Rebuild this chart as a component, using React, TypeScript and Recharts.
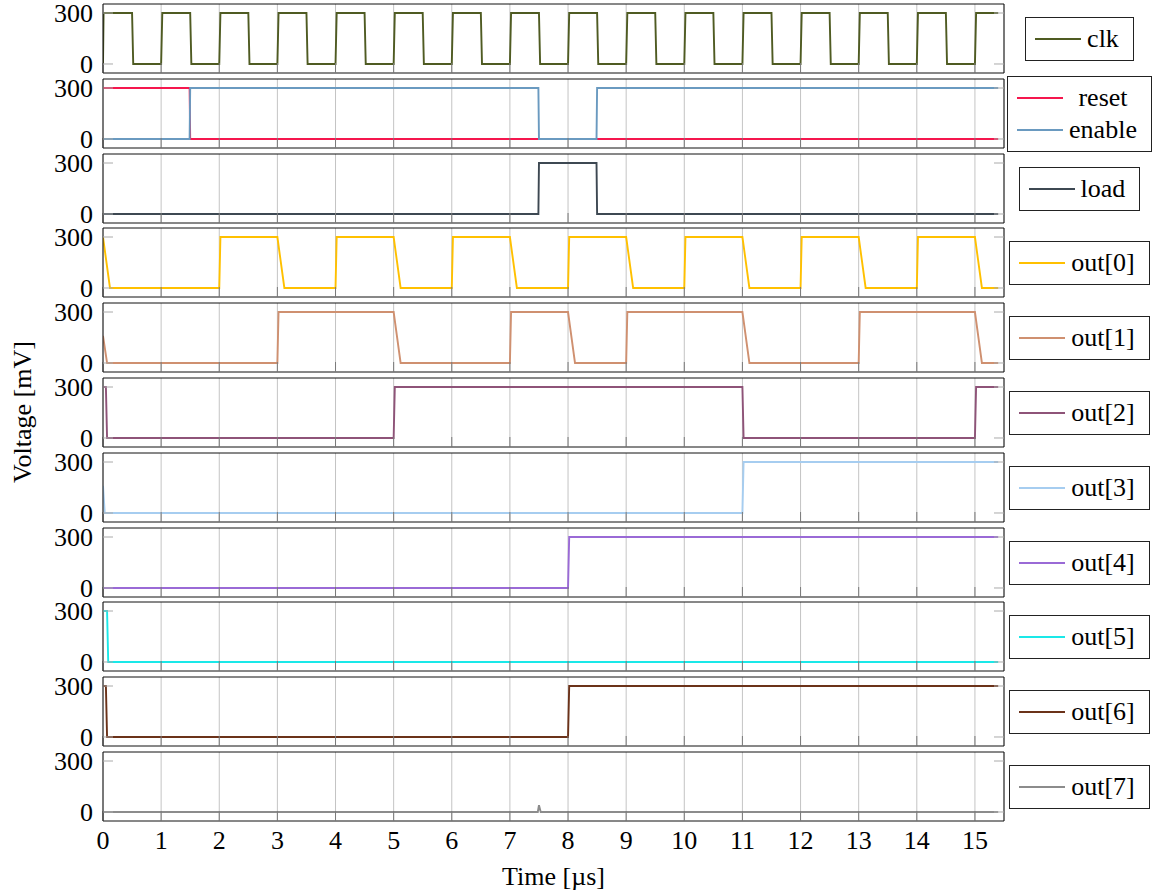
import React from 'react';
import { LineChart, Line, XAxis, YAxis, CartesianGrid, Legend } from 'recharts';

type Pt = [number, number];

const timeTicks = [0, 1, 2, 3, 4, 5, 6, 7, 8, 9, 10, 11, 12, 13, 14, 15];
const voltTicks = [0, 300];
const timeDomain: [number, number] = [0, 15.5];
const voltDomain: [number, number] = [-53, 353];

const clk: Pt[] = [
  [0, 0], [0.01, 300], [0.5, 300], [0.52, 0],
  [1, 0], [1.02, 300], [1.5, 300], [1.52, 0],
  [2, 0], [2.02, 300], [2.5, 300], [2.52, 0],
  [3, 0], [3.02, 300], [3.5, 300], [3.52, 0],
  [4, 0], [4.02, 300], [4.5, 300], [4.52, 0],
  [5, 0], [5.02, 300], [5.5, 300], [5.52, 0],
  [6, 0], [6.02, 300], [6.5, 300], [6.52, 0],
  [7, 0], [7.02, 300], [7.5, 300], [7.52, 0],
  [8, 0], [8.02, 300], [8.5, 300], [8.52, 0],
  [9, 0], [9.02, 300], [9.5, 300], [9.52, 0],
  [10, 0], [10.02, 300], [10.5, 300], [10.52, 0],
  [11, 0], [11.02, 300], [11.5, 300], [11.52, 0],
  [12, 0], [12.02, 300], [12.5, 300], [12.52, 0],
  [13, 0], [13.02, 300], [13.5, 300], [13.52, 0],
  [14, 0], [14.02, 300], [14.5, 300], [14.52, 0],
  [15, 0], [15.02, 300], [15.4, 300],
];
const reset: Pt[] = [[0, 300], [1.49, 300], [1.5, 0], [15.4, 0]];
const enable: Pt[] = [[0, 0], [1.49, 0], [1.5, 300], [7.49, 300], [7.5, 0], [8.49, 0], [8.5, 300], [15.4, 300]];
const load: Pt[] = [[0, 0], [7.49, 0], [7.5, 300], [8.49, 300], [8.5, 0], [15.4, 0]];
const out0: Pt[] = [
  [0, 300], [0.12, 0], [2, 0], [2.02, 300], [3, 300], [3.12, 0],
  [4, 0], [4.02, 300], [5, 300], [5.12, 0], [6, 0], [6.02, 300],
  [7, 300], [7.12, 0], [8, 0], [8.02, 300], [9, 300], [9.12, 0],
  [10, 0], [10.02, 300], [11, 300], [11.12, 0], [12, 0], [12.02, 300],
  [13, 300], [13.12, 0], [14, 0], [14.02, 300], [15, 300], [15.12, 0], [15.4, 0],
];
const out1: Pt[] = [
  [0, 160], [0.07, 0], [3, 0], [3.02, 300], [5, 300], [5.12, 0],
  [7, 0], [7.02, 300], [8, 300], [8.12, 0], [9, 0], [9.02, 300],
  [11, 300], [11.12, 0], [13, 0], [13.02, 300], [15, 300], [15.12, 0], [15.4, 0],
];
const out2: Pt[] = [[0, 300], [0.05, 300], [0.07, 0], [5, 0], [5.02, 300], [11, 300], [11.02, 0], [15, 0], [15.02, 300], [15.4, 300]];
const out3: Pt[] = [[0, 160], [0.03, 0], [11, 0], [11.02, 300], [15.4, 300]];
const out4: Pt[] = [[0, 0], [8, 0], [8.02, 300], [15.4, 300]];
const out5: Pt[] = [[0, 300], [0.07, 300], [0.09, 0], [15.4, 0]];
const out6: Pt[] = [[0, 300], [0.05, 300], [0.07, 0], [8, 0], [8.02, 300], [15.4, 300]];
const out7: Pt[] = [[0, 0], [7.48, 0], [7.5, 40], [7.53, 0], [15.4, 0]];

interface Sig { name: string; color: string; points: Pt[] }

const panels: Sig[][] = [
  [{ name: 'clk', color: '#4f5b22', points: clk }],
  [
    { name: 'reset', color: '#f5174e', points: reset },
    { name: 'enable', color: '#6a9ac0', points: enable },
  ],
  [{ name: 'load', color: '#3d4852', points: load }],
  [{ name: 'out[0]', color: '#ffc000', points: out0 }],
  [{ name: 'out[1]', color: '#cf9070', points: out1 }],
  [{ name: 'out[2]', color: '#8e5378', points: out2 }],
  [{ name: 'out[3]', color: '#a6cdf0', points: out3 }],
  [{ name: 'out[4]', color: '#9a6ad6', points: out4 }],
  [{ name: 'out[5]', color: '#1ae8e8', points: out5 }],
  [{ name: 'out[6]', color: '#6b3219', points: out6 }],
  [{ name: 'out[7]', color: '#8c8c8c', points: out7 }],
];

const FONT = "'Liberation Serif', 'DejaVu Serif', serif";
const W = 1155;
const LEFT = 103;
const RIGHT_M = 151;
const PLOT_H = 69;
const PITCH = 74.8;
const TOP0 = 4;
const XAXIS_H = 73;
const PAD = 14;

const NoLabel = () => <g />;

function makeLegend(order: string[]) {
  return function LegendBox(props: any) {
    const payload: any[] = (props.payload || []).slice();
    payload.sort((a: any, b: any) => order.indexOf(a.value) - order.indexOf(b.value));
    return (
      <div style={{ width: '100%', height: '100%', display: 'flex', alignItems: 'center', justifyContent: 'center' }}>
        <div
          style={{
            border: '1px solid #222',
            background: '#fff',
            padding: '5px 14px 5px 9px',
            display: 'grid',
            gridTemplateColumns: '46px auto',
            columnGap: 6,
            fontFamily: FONT,
            fontSize: 26,
            lineHeight: '32px',
            color: '#000',
          }}
        >
          {payload.map((e: any) => (
            <React.Fragment key={e.value}>
              <div style={{ display: 'flex', alignItems: 'center' }}>
                <div style={{ width: 46, height: 2, background: e.color }} />
              </div>
              <div style={{ textAlign: 'center', whiteSpace: 'nowrap' }}>{e.value}</div>
            </React.Fragment>
          ))}
        </div>
      </div>
    );
  };
}

function Panel({ sigs, index, last }: { sigs: Sig[]; index: number; last: boolean }) {
  const top = Math.round(TOP0 + index * PITCH) - PAD - 1;
  const height = PAD + 1 + PLOT_H + (last ? XAXIS_H : 1 + PAD);
  const tickFont = { fill: '#000', fontSize: 26, fontFamily: FONT };
  const order = sigs.map((s) => s.name);
  return (
    <div style={{ position: 'absolute', left: 0, top, width: W, height }}>
      <LineChart width={W} height={height} margin={{ top: PAD, right: RIGHT_M - 1, left: 0, bottom: last ? 0 : PAD }}>
        <CartesianGrid horizontal={false} stroke="#c4c4c4" strokeWidth={1} />
        <XAxis
          xAxisId={0}
          type="number"
          dataKey="t"
          domain={timeDomain}
          ticks={timeTicks}
          interval={0}
          allowDataOverflow
          height={last ? XAXIS_H : 1}
          tickSize={-10}
          tickMargin={20}
          tick={last ? tickFont : NoLabel}
          tickLine={{ stroke: '#7a7a7a' }}
          axisLine={{ stroke: '#111' }}
          label={last ? { value: 'Time [µs]', position: 'insideBottom', offset: 9, fill: '#000', fontSize: 26, fontFamily: FONT } : undefined}
        />
        <XAxis
          xAxisId="top"
          orientation="top"
          type="number"
          domain={timeDomain}
          ticks={timeTicks}
          interval={0}
          allowDataOverflow
          height={1}
          tickSize={-10}
          tick={NoLabel}
          tickLine={{ stroke: '#7a7a7a' }}
          axisLine={{ stroke: '#111' }}
        />
        <YAxis
          yAxisId={0}
          type="number"
          domain={voltDomain}
          ticks={voltTicks}
          interval={0}
          allowDataOverflow
          width={LEFT}
          tickSize={-10}
          tickMargin={20}
          tick={tickFont}
          tickLine={{ stroke: '#aaaaaa' }}
          axisLine={{ stroke: '#111' }}
        />
        <YAxis
          yAxisId="r"
          orientation="right"
          type="number"
          domain={voltDomain}
          ticks={voltTicks}
          interval={0}
          allowDataOverflow
          width={1}
          tickSize={-10}
          tick={NoLabel}
          tickLine={{ stroke: '#aaaaaa' }}
          axisLine={{ stroke: '#111' }}
        />
        {sigs.map((s) => (
          <Line
            key={s.name}
            xAxisId={0}
            yAxisId={0}
            name={s.name}
            data={s.points.map(([t, v]) => ({ t, v }))}
            dataKey="v"
            type="linear"
            stroke={s.color}
            strokeWidth={1.9}
            dot={false}
            activeDot={false}
            isAnimationActive={false}
          />
        ))}
        <Legend
          layout="vertical"
          align="center"
          verticalAlign="middle"
          content={makeLegend(order)}
          wrapperStyle={{ left: W - RIGHT_M, top: PAD + 1, width: RIGHT_M, height: PLOT_H }}
        />
      </LineChart>
    </div>
  );
}

export default function App() {
  return (
    <div style={{ position: 'absolute', left: 0, top: 0, width: W, height: 894, background: '#fff' }}>
      {panels.map((sigs, i) => (
        <Panel key={i} sigs={sigs} index={i} last={i === panels.length - 1} />
      ))}
      <div
        style={{
          position: 'absolute',
          left: 23,
          top: 412,
          transform: 'translate(-50%, -50%) rotate(-90deg)',
          whiteSpace: 'nowrap',
          fontFamily: FONT,
          fontSize: 26,
          color: '#000',
        }}
      >
        Voltage [mV]
      </div>
    </div>
  );
}
